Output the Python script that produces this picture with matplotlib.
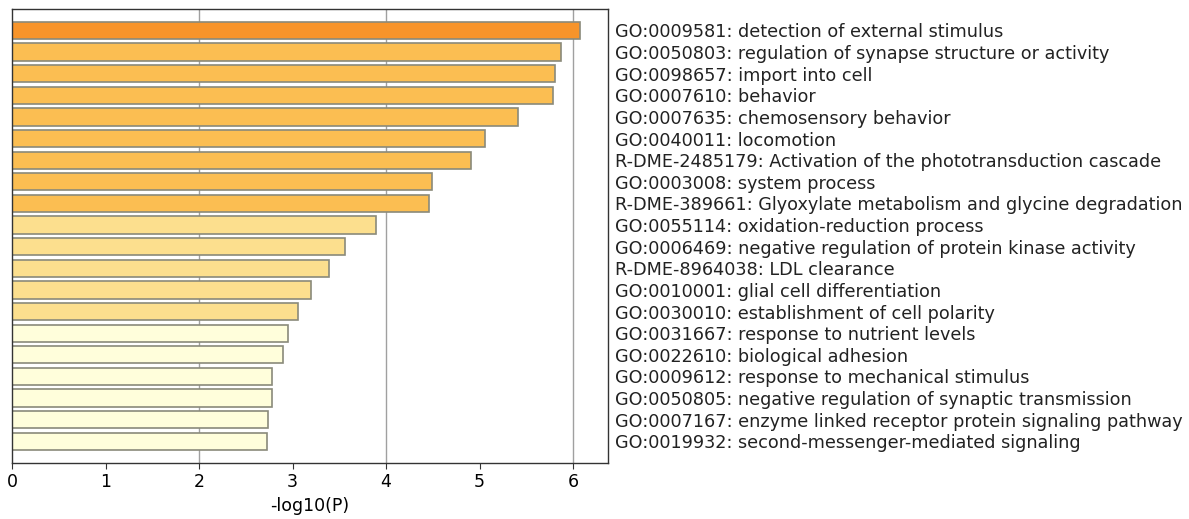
import matplotlib
matplotlib.use("Agg")
import matplotlib.pyplot as plt

plt.rcParams["font.family"] = ["DejaVu Sans"]

terms = [
    "GO:0009581: detection of external stimulus",
    "GO:0050803: regulation of synapse structure or activity",
    "GO:0098657: import into cell",
    "GO:0007610: behavior",
    "GO:0007635: chemosensory behavior",
    "GO:0040011: locomotion",
    "R-DME-2485179: Activation of the phototransduction cascade",
    "GO:0003008: system process",
    "R-DME-389661: Glyoxylate metabolism and glycine degradation",
    "GO:0055114: oxidation-reduction process",
    "GO:0006469: negative regulation of protein kinase activity",
    "R-DME-8964038: LDL clearance",
    "GO:0010001: glial cell differentiation",
    "GO:0030010: establishment of cell polarity",
    "GO:0031667: response to nutrient levels",
    "GO:0022610: biological adhesion",
    "GO:0009612: response to mechanical stimulus",
    "GO:0050805: negative regulation of synaptic transmission",
    "GO:0007167: enzyme linked receptor protein signaling pathway",
    "GO:0019932: second-messenger-mediated signaling",
]
logp = [6.07, 5.87, 5.81, 5.79, 5.41, 5.06, 4.91, 4.49, 4.46, 3.89,
        3.56, 3.39, 3.20, 3.06, 2.95, 2.90, 2.78, 2.78, 2.74, 2.73]
colors = ["#f7942a"] + ["#fbbe52"] * 8 + ["#fcdf8e"] * 5 + ["#fffedb"] * 6
grid_x = [2, 4, 6]

fig = plt.figure(figsize=(11.89, 5.19), dpi=100)
ax = fig.add_axes([0.0101, 0.108, 0.501, 0.875])

pos = list(range(len(terms)))
ax.barh(pos, logp, height=0.8, color=colors, edgecolor="#8a8a7a", linewidth=1.2, zorder=2)
for gx in grid_x:
    ax.axvline(gx, color="#a0a0a0", linewidth=1, zorder=1)

ax.set_ylim(len(terms), -1)
ax.set_xlim(0, 6.37)
ax.set_xticks(range(7))
ax.tick_params(axis="x", labelsize=12.5, length=4, color="#333333")
ax.set_xlabel("-log10(P)", fontsize=12.5, labelpad=4)

ax.yaxis.tick_right()
ax.set_yticks(pos)
ax.set_yticklabels(terms, fontsize=12.7, color="#222222")
ax.tick_params(axis="y", length=0, pad=5)

for s in ax.spines.values():
    s.set_color("#333333")
    s.set_linewidth(1)

fig.savefig("out.png", dpi=100)
